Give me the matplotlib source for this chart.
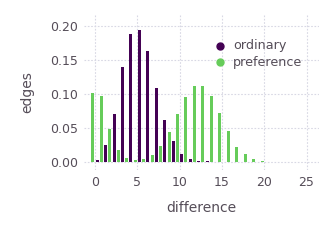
import numpy as np
import matplotlib
matplotlib.use('Agg')
import matplotlib.pyplot as plt

# values
ordinary = [0.003, 0.024, 0.070, 0.140, 0.188, 0.194, 0.163, 0.109, 0.061, 0.030, 0.012, 0.004, 0.001, 0.0003]
preference = [0.101, 0.097, 0.048, 0.017, 0.005, 0.0025, 0.004, 0.010, 0.023, 0.044, 0.070, 0.096,
              0.112, 0.112, 0.097, 0.072, 0.045, 0.022, 0.011, 0.0035, 0.001]
x_ord = np.arange(len(ordinary))
x_pref = np.arange(len(preference))

txt = '#554d58'
purple = '#440154'
green = '#66cc5a'

fig = plt.figure(figsize=(3.36, 2.4), dpi=100)
ax = fig.add_axes([0.25, 0.2917, 0.70, 0.646])

ax.bar(x_pref - 0.25, preference, width=0.36, color=green, zorder=3)
ax.bar(x_ord + 0.25, ordinary, width=0.36, color=purple, zorder=3)

# legend with dot markers
ax.scatter([], [], color=purple, s=25, label='ordinary')
ax.scatter([], [], color=green, s=25, label='preference')
leg = ax.legend(loc='upper left', bbox_to_anchor=(0.636, 0.8375), bbox_transform=fig.transFigure,
                frameon=False, fontsize=9.2, handlelength=1, handletextpad=0.54,
                labelspacing=0.3, borderaxespad=0, borderpad=0)
for t in leg.get_texts():
    t.set_color(txt)

ax.set_xlim(-1.3, 26.5)
ax.set_ylim(-0.0123, 0.2167)
ax.set_xticks([0, 5, 10, 15, 20, 25])
ax.set_yticks([0.0, 0.05, 0.10, 0.15, 0.20])
ax.set_yticklabels(['0.00', '0.05', '0.10', '0.15', '0.20'])
ax.tick_params(colors=txt, labelsize=9, length=0)
ax.tick_params(axis='x', pad=4.5)
ax.tick_params(axis='y', pad=4)
ax.grid(True, color='#d8d8e4', linestyle=(0, (1.5, 1.5)), linewidth=0.8, zorder=0)
for s in ax.spines.values():
    s.set_visible(False)

ax.set_xlabel('difference', color=txt, fontsize=10, labelpad=8.5)
ax.set_ylabel('edges', color=txt, fontsize=10, labelpad=11.5)

fig.savefig('out.png', dpi=100)
